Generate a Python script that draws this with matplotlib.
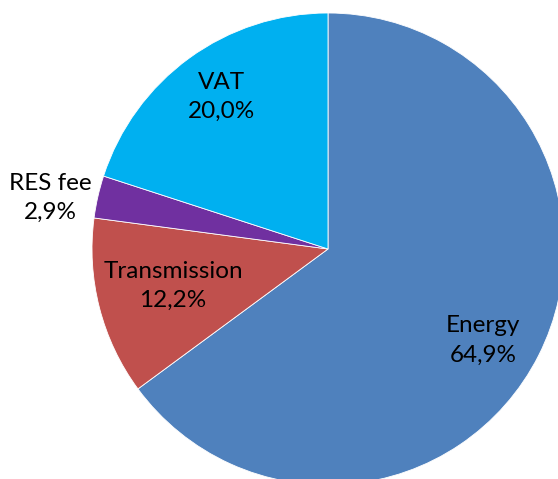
import matplotlib.pyplot as plt

labels = ['Energy', 'Transmission', 'RES fee', 'VAT']
shares = [64.9, 12.2, 2.9, 20.0]
colors = ['#4F81BD', '#C0504D', '#7030A0', '#00B0F0']

# label spots in pie units (radius 1)
label_pos = [(0.657, -0.386), (-0.657, -0.157), (-1.178, 0.216), (-0.453, 0.644)]

W, H = 558, 479
cx, cy, R = 328, 249, 236

fig = plt.figure(figsize=(W / 100, H / 100), dpi=100)
ax = fig.add_axes([0, 0, 1, 1])
ax.pie(shares, colors=colors, startangle=90, counterclock=False,
       wedgeprops=dict(linewidth=0.6, edgecolor='white'))
ax.set_xlim(-cx / R, (W - cx) / R)
ax.set_ylim(-(H - cy) / R, cy / R)
ax.set_aspect('equal')
ax.axis('off')

for name, val, (x, y) in zip(labels, shares, label_pos):
    txt = name + '\n' + ('%.1f%%' % val).replace('.', ',')
    ax.text(x, y, txt, ha='center', va='center', fontsize=17.5,
            family=['Lato', 'DejaVu Sans'], linespacing=1.5, color='black')

fig.savefig('out.png', dpi=100)
